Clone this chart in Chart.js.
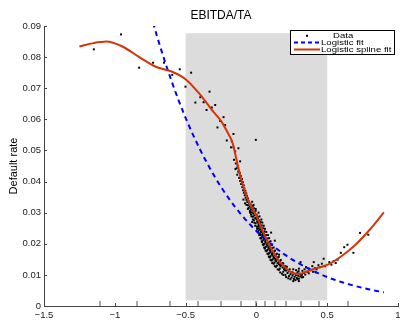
<!DOCTYPE html>
<html><head><meta charset="utf-8">
<script src="https://cdn.jsdelivr.net/npm/chart.js@4/dist/chart.umd.min.js"></script>
<style>html,body{margin:0;padding:0;background:#fff}#wrap{width:402px;height:320px;position:relative}</style>
</head><body><div id="wrap"><canvas id="c" width="402" height="320"></canvas></div>
<script>
const titleText = 'EBITDA/TA';
const yAxisLabel = 'Default rate';
const seriesNames = ['Data', 'Logistic fit', 'Logistic spline fit'];
const xTickValues = [-1.5, -1, -0.5, 0, 0.5, 1];
const yTickValues = [0, 0.01, 0.02, 0.03, 0.04, 0.05, 0.06, 0.07, 0.08, 0.09];

const dataX = [
 -1.148,-0.956,-0.828,-0.730,-0.653,-0.594,-0.541,-0.501,-0.461,-0.431,-0.396,-0.373,-0.352,-0.331,-0.315,-0.291,-0.275,-0.256,-0.232,-0.221,-0.209,-0.179,-0.174,-0.162,-0.004,
 -0.150,-0.162,-0.127,-0.115,-0.139,-0.158,-0.145,-0.132,-0.148,
 -0.128,-0.118,-0.135,-0.110,-0.122,-0.102,-0.115,-0.096,-0.108,-0.090,-0.100,-0.085,-0.094,-0.078,-0.088,-0.072,-0.082,-0.066,-0.076,-0.060,-0.070,-0.055,-0.064,-0.080,
 -0.050,-0.042,-0.060,-0.030,
 -0.048,-0.036,-0.055,-0.025,
 -0.040,-0.028,-0.018,-0.046,
 -0.032,-0.012,-0.022,-0.005,-0.038,
 -0.015,0.002,-0.025,0.008,-0.008,
 0.000,0.012,-0.018,0.020,0.005,
 0.010,-0.006,0.022,0.030,0.015,
 0.018,0.004,0.028,0.038,0.012,
 0.025,0.040,0.016,0.032,0.048,
 0.035,0.050,0.024,0.043,0.058,0.030,
 0.045,0.060,0.038,0.052,0.068,0.032,
 0.055,0.070,0.045,0.062,0.078,0.040,
 0.065,0.080,0.055,0.072,0.090,0.050,
 0.076,0.092,0.066,0.084,0.100,0.060,
 0.088,0.104,0.078,0.096,0.112,0.072,
 0.100,0.115,0.090,0.108,0.125,0.085,
 0.112,0.128,0.100,0.120,0.138,0.095,
 0.125,0.142,0.115,0.134,0.152,0.108,
 0.140,0.158,0.128,0.150,0.168,0.122,
 0.160,0.178,0.145,0.170,0.190,0.138,
 0.185,0.200,0.165,0.195,0.215,0.158,
 0.210,0.228,0.190,0.220,0.245,0.180,0.240,0.262,0.205,0.255,0.280,0.230,0.270,0.295,0.248,0.285,0.310,0.265,0.300,0.225,0.275,0.320,0.290,0.305,0.318,0.335,0.298,
 0.260,0.280,0.300,0.312,0.325,0.340,0.350,0.360,0.372,0.385,0.395,0.405,0.415,0.425,0.438,0.450,0.462,0.475,0.485,0.345,0.370,0.400,0.420,
 0.515,0.530,0.545,0.560,0.573,0.596,0.620,0.643,0.685,0.732,0.790,
 -0.092,0.104,0.130,-0.030,0.060,0.160,
 -0.070,-0.020,-0.060,-0.005,-0.045,0.015,-0.035,0.022,-0.025,0.035,-0.015,0.042,-0.008,0.052,0.005,0.060,0.012,0.070,
 0.020,0.082,0.028,0.090,0.038,0.100,0.045,0.110,0.055,0.122,0.065,0.132,0.078,0.145,0.088,0.158,0.100,0.172,
 0.112,0.185,0.130,0.205,0.150,0.235,0.168,0.255,0.190,0.320,0.210,0.330,0.240,0.290,0.260,0.300,
 0.048,0.067,0.093,0.118,0.140,0.168,0.200,0.005,0.020,0.038
];
const dataY = [
 0.0825,0.0873,0.0766,0.0782,0.0782,0.0743,0.0761,0.0705,0.0750,0.0654,0.0671,0.0655,0.0630,0.0689,0.0638,0.0646,0.0574,0.0595,0.0607,0.0582,0.0532,0.0510,0.0529,0.0553,0.0534,
 0.0497,0.0510,0.0507,0.0465,0.0443,0.0470,0.0458,0.0450,0.0440,
 0.0432,0.0428,0.0422,0.0418,0.0412,0.0408,0.0402,0.0398,0.0392,0.0388,0.0382,0.0378,0.0372,0.0370,0.0364,0.0362,0.0356,0.0354,0.0348,0.0346,0.0341,0.0338,0.0334,0.0330,
 0.0331,0.0327,0.0324,0.0335,
 0.0320,0.0318,0.0315,0.0322,
 0.0311,0.0308,0.0314,0.0305,
 0.0301,0.0302,0.0297,0.0306,0.0294,
 0.0291,0.0293,0.0287,0.0286,0.0283,
 0.0279,0.0281,0.0276,0.0275,0.0272,
 0.0268,0.0266,0.0264,0.0270,0.0261,
 0.0257,0.0255,0.0253,0.0259,0.0250,
 0.0247,0.0246,0.0243,0.0240,0.0250,
 0.0237,0.0235,0.0233,0.0230,0.0240,0.0228,
 0.0226,0.0224,0.0221,0.0219,0.0228,0.0217,
 0.0215,0.0213,0.0211,0.0208,0.0217,0.0206,
 0.0204,0.0202,0.0200,0.0198,0.0206,0.0196,
 0.0194,0.0192,0.0190,0.0188,0.0196,0.0186,
 0.0184,0.0182,0.0180,0.0178,0.0186,0.0176,
 0.0174,0.0172,0.0170,0.0168,0.0175,0.0166,
 0.0164,0.0162,0.0160,0.0158,0.0165,0.0156,
 0.0154,0.0152,0.0150,0.0148,0.0156,0.0146,
 0.0144,0.0142,0.0140,0.0138,0.0145,0.0136,
 0.0134,0.0132,0.0130,0.0128,0.0136,0.0126,
 0.0124,0.0122,0.0120,0.0118,0.0126,0.0116,
 0.0114,0.0112,0.0110,0.0106,0.0108,0.0104,0.0102,0.0104,0.0100,0.0098,0.0099,0.0096,0.0094,0.0097,0.0091,0.0090,0.0095,0.0087,0.0088,0.0089,0.0083,0.0092,0.0108,0.0104,0.0101,0.0106,0.0112,
 0.0118,0.0115,0.0120,0.0141,0.0113,0.0118,0.0125,0.0110,0.0120,0.0115,0.0128,0.0141,0.0122,0.0118,0.0131,0.0125,0.0136,0.0152,0.0128,0.0101,0.0105,0.0110,0.0108,
 0.0141,0.0133,0.0144,0.0138,0.0149,0.0171,0.0189,0.0197,0.0171,0.0235,0.0229,
 0.0342,0.0236,0.0210,0.0270,0.0185,0.0165,
 0.0325,0.0325,0.0312,0.0312,0.0300,0.0300,0.0288,0.0288,0.0278,0.0278,0.0268,0.0268,0.0258,0.0258,0.0248,0.0248,0.0238,0.0238,
 0.0228,0.0228,0.0218,0.0218,0.0208,0.0208,0.0198,0.0198,0.0188,0.0188,0.0178,0.0178,0.0168,0.0168,0.0158,0.0158,0.0148,0.0148,
 0.0138,0.0138,0.0128,0.0128,0.0118,0.0118,0.0108,0.0108,0.0100,0.0100,0.0093,0.0093,0.0086,0.0086,0.0080,0.0080,
 0.0232,0.0212,0.0192,0.0172,0.0152,0.0132,0.0115,0.0285,0.0265,0.0245
];

const logitX = [-0.73,-0.7,-0.6,-0.5,-0.4,-0.3,-0.2,-0.1,0,0.1,0.2,0.3,0.4,0.5,0.6,0.7,0.8,0.9];
const logitY = [0.0911,0.0864,0.0724,0.0605,0.0505,0.0420,0.0349,0.0290,0.0241,0.0200,0.0165,0.0137,0.0113,0.0093,0.0077,0.0064,0.0053,0.0044];

const splineX = [-1.25,-1.15,-1.06,-0.95,-0.83,-0.71,-0.6,-0.5,-0.4,-0.3,-0.25,-0.2,-0.17,-0.14,-0.125,-0.1,-0.06,0,0.05,0.1,0.15,0.2,0.25,0.3,0.35,0.4,0.5,0.6,0.7,0.8,0.9];
const splineY = [0.0834,0.0845,0.0850,0.0835,0.0801,0.0769,0.0754,0.0729,0.0681,0.0622,0.0595,0.0555,0.0527,0.0470,0.0440,0.0395,0.0342,0.0290,0.0235,0.0190,0.0150,0.0125,0.0107,0.0103,0.0110,0.0118,0.0132,0.0160,0.0197,0.0245,0.0301];

const rugX = [-1.108,-0.84,-0.609,-0.412,-0.249,-0.111,-0.004,0.064,0.132,0.211,0.312,0.445,0.645];
const shadeX = [-0.5, 0.5];
const shadeY = [0.0018, 0.0877];

const FONT = '"Liberation Sans", Arial, Helvetica, sans-serif';
const RED = 'rgb(213,52,8)';
const BLUE = 'rgb(0,0,255)';

const toPts = (xs, ys) => xs.map((v, i) => ({x: v, y: ys[i]}));
const fmtX = v => (Math.abs(v) < 1e-9 ? '0' : String(+v.toFixed(2))).replace('-', '\u2212');
const fmtY = v => (Math.abs(v) < 1e-9 ? '0' : v.toFixed(2));

const decor = {
  id: 'decor',
  beforeDatasetsDraw(chart) {
    const {ctx, scales: {x, y}} = chart;
    ctx.save();
    ctx.fillStyle = 'rgb(220,220,220)';
    const x0 = x.getPixelForValue(shadeX[0]), x1 = x.getPixelForValue(shadeX[1]);
    const y0 = y.getPixelForValue(shadeY[0]), y1 = y.getPixelForValue(shadeY[1]);
    ctx.fillRect(x0, y1, x1 - x0, y0 - y1);
    ctx.restore();
  },
  afterDatasetsDraw(chart) {
    const {ctx, chartArea: a, scales: {x, y}} = chart;
    ctx.save();
    ctx.strokeStyle = 'rgb(140,140,140)';
    ctx.lineWidth = 1.5;
    rugX.forEach(v => {
      const px = Math.round(x.getPixelForValue(v));
      ctx.beginPath(); ctx.moveTo(px, a.bottom); ctx.lineTo(px, a.bottom - 5); ctx.stroke();
    });
    ctx.strokeStyle = '#444';
    ctx.lineWidth = 1;
    xTickValues.forEach(v => {
      const px = Math.round(x.getPixelForValue(v)) + 0.5;
      ctx.beginPath(); ctx.moveTo(px, a.bottom); ctx.lineTo(px, a.bottom - 3); ctx.stroke();
    });
    yTickValues.forEach(v => {
      const py = Math.round(y.getPixelForValue(v)) + 0.5;
      ctx.beginPath(); ctx.moveTo(a.left, py); ctx.lineTo(a.left + 3, py); ctx.stroke();
    });
    ctx.restore();
  },
  afterDraw(chart) {
    const {ctx, chartArea: a} = chart;
    ctx.save();
    ctx.fillStyle = '#000';
    ctx.font = '12px ' + FONT;
    ctx.textAlign = 'center';
    ctx.textBaseline = 'alphabetic';
    ctx.fillText(titleText, (a.left + a.right) / 2, 18.5);
    ctx.save();
    ctx.translate(17, (a.top + a.bottom) / 2);
    ctx.rotate(-Math.PI / 2);
    ctx.font = '11px ' + FONT;
    ctx.fillText(yAxisLabel, 0, 0);
    ctx.restore();
    const L = a.right - 108, T = a.top + 4, W = 104, H = 24;
    ctx.fillStyle = '#fff';
    ctx.fillRect(L, T, W, H);
    ctx.strokeStyle = '#000';
    ctx.lineWidth = 1;
    ctx.strokeRect(L + 0.5, T + 0.5, W, H);
    const rows = [T + 5.8, T + 12.5, T + 19.5];
    ctx.fillStyle = '#000';
    ctx.fillRect(L + 16, rows[0] - 1, 2, 2);
    ctx.strokeStyle = BLUE; ctx.lineWidth = 2; ctx.setLineDash([4, 3]);
    ctx.beginPath(); ctx.moveTo(L + 4, rows[1]); ctx.lineTo(L + 30, rows[1]); ctx.stroke();
    ctx.setLineDash([]);
    ctx.strokeStyle = RED;
    ctx.beginPath(); ctx.moveTo(L + 4, rows[2]); ctx.lineTo(L + 30, rows[2]); ctx.stroke();
    ctx.font = '9.6px ' + FONT;
    ctx.textAlign = 'left';
    ctx.textBaseline = 'middle';
    ctx.fillStyle = '#000';
    const label = (txt, px, py) => {
      ctx.save(); ctx.translate(px, py); ctx.scale(1, 0.8); ctx.fillText(txt, 0, 0); ctx.restore();
    };
    label(seriesNames[0], L + 43, rows[0]);
    label(seriesNames[1], L + 31, rows[1]);
    label(seriesNames[2], L + 31, rows[2]);
    ctx.restore();
  }
};

new Chart(document.getElementById('c'), {
  type: 'scatter',
  data: {
    datasets: [
      { label: seriesNames[0], data: toPts(dataX, dataY), showLine: false, pointStyle: 'rect',
        pointRadius: 1.4, pointBorderWidth: 0, backgroundColor: '#000', borderColor: '#000', order: 3, clip: 0 },
      { label: seriesNames[1], data: toPts(logitX, logitY), showLine: true, borderColor: BLUE, borderWidth: 2,
        borderDash: [5, 4], pointRadius: 0, cubicInterpolationMode: 'monotone', order: 2, clip: 0 },
      { label: seriesNames[2], data: toPts(splineX, splineY), showLine: true, borderColor: RED, borderWidth: 2,
        pointRadius: 0, cubicInterpolationMode: 'monotone', order: 1, clip: 0 }
    ]
  },
  options: {
    responsive: false,
    animation: false,
    devicePixelRatio: 1,
    layout: { padding: { left: 0, right: 1, top: 26, bottom: 0 } },
    plugins: { legend: { display: false }, title: { display: false }, tooltip: { enabled: false } },
    scales: {
      x: {
        type: 'linear', min: -1.5, max: 1,
        afterFit(s) { s.height = 14; s.paddingLeft = 0; s.paddingRight = 0; },
        afterBuildTicks(s) { s.ticks = xTickValues.map(v => ({value: v})); },
        ticks: { callback: v => fmtX(v), padding: 4, color: '#222', font: { size: 9.5, family: FONT }, maxRotation: 0, autoSkip: false },
        grid: { display: false, drawTicks: false },
        border: { display: true, color: '#444', width: 1 }
      },
      y: {
        type: 'linear', min: 0, max: 0.09,
        afterFit(s) { s.width = 44; s.paddingTop = 0; s.paddingBottom = 0; },
        afterBuildTicks(s) { s.ticks = yTickValues.map(v => ({value: v})); },
        ticks: { callback: v => fmtY(v), padding: 3, color: '#222', font: { size: 9.5, family: FONT }, autoSkip: false },
        grid: { display: false, drawTicks: false },
        border: { display: true, color: '#444', width: 1 }
      }
    }
  },
  plugins: [decor]
});
</script></body></html>
